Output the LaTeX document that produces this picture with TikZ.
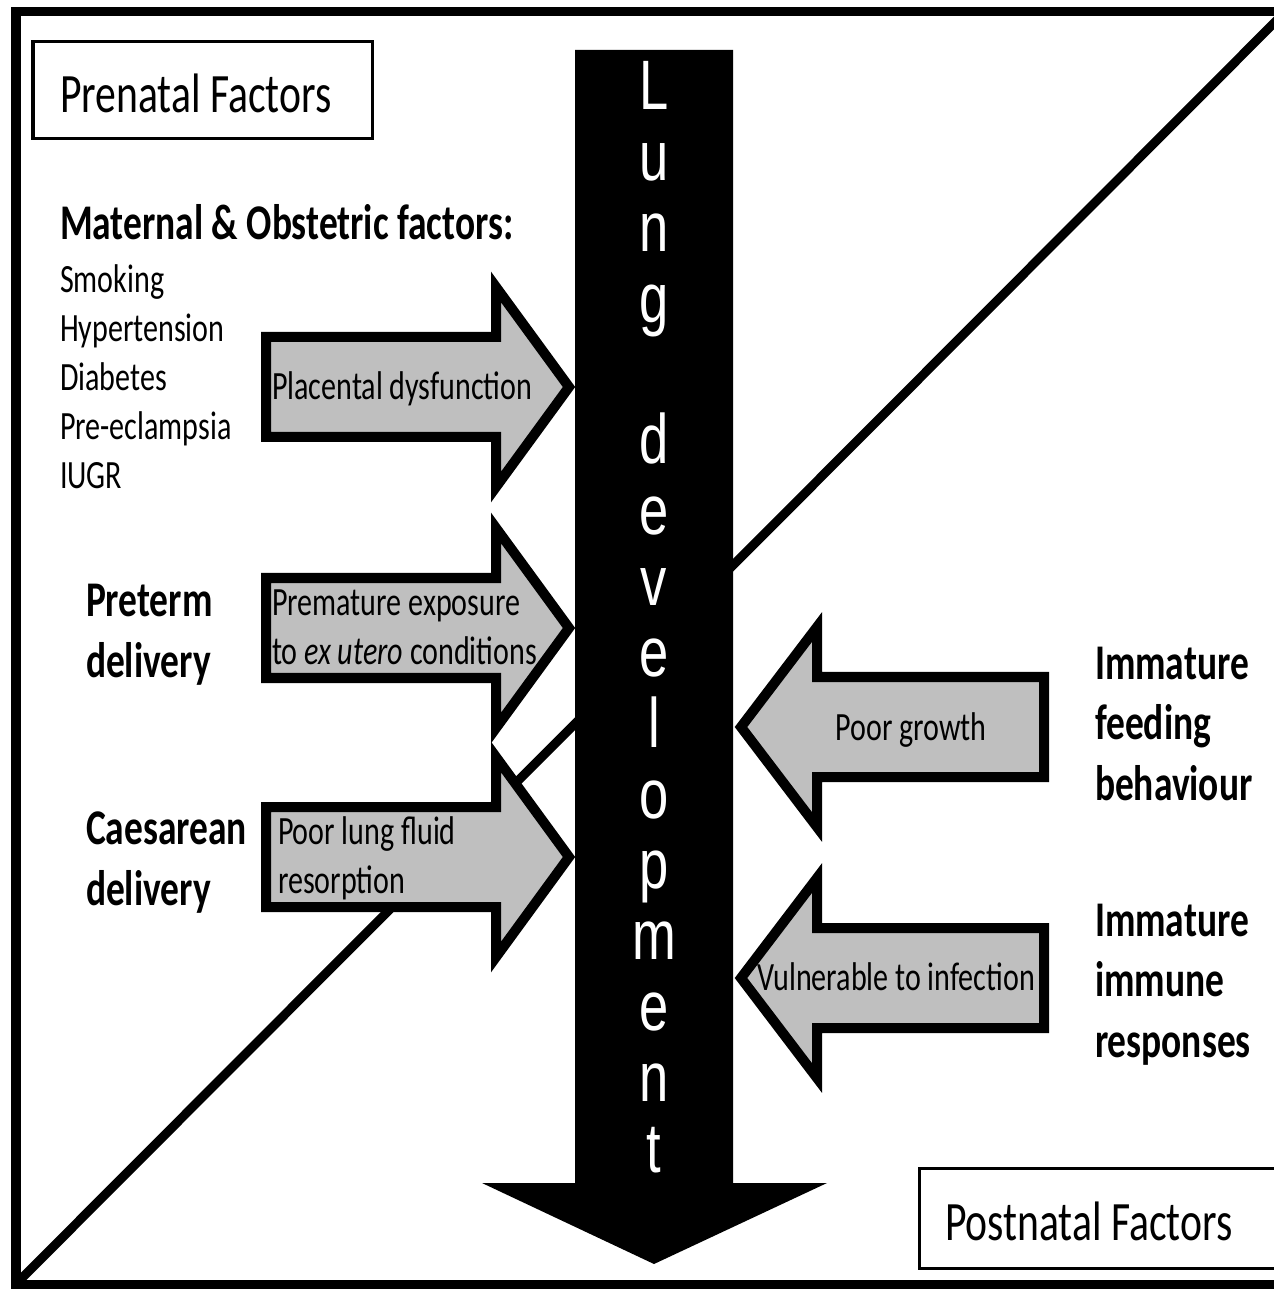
\documentclass[tikz,border=0pt]{standalone}
\usepackage{fontspec}
\setmainfont{Carlito}[FakeStretch=0.75]
\newfontfamily\stemfont{Liberation Sans}[FakeStretch=0.75]
\definecolor{factorgray}{RGB}{191,191,191}

\begin{document}
\begin{tikzpicture}[
      x=0.01cm, y=-0.01cm,
      every node/.style={inner sep=0pt, outer sep=0pt},
      titlebox/.style={draw, line width=0.03cm, anchor=north west},
      heading/.style={font=\fontsize{15.8}{19}\selectfont, anchor=base west},
      factor/.style={font=\bfseries\fontsize{14.2}{17.2}\selectfont, anchor=base west, align=left},
      bodytext/.style={font=\fontsize{11.4}{13.8}\selectfont, anchor=base west, align=left},
      letter/.style={font=\stemfont\fontsize{19.9}{24}\selectfont, text=white, anchor=base},
      grayarrow/.style={fill=factorgray, draw=black, line width=0.1cm}
    ]
  \useasboundingbox (0,0) rectangle (1274,1292);

  % frame and the prenatal/postnatal split
  \draw[line width=0.09cm] (16,12) rectangle (1290,1284);
  \draw[line width=0.09cm] (16,1284) -- (1285,12);

  % lung development stem
  \fill (575,50) -- (733,50) -- (733,1183) -- (827,1183) -- (654,1264)
    -- (482,1183) -- (575,1183) -- cycle;
  \foreach \ch [count=\i from 0] in {L,u,n,g,{},d,e,v,e,l,o,p,m,e,n,t}
    \node[letter] (ltr\i) at (654,110+70.8*\i) {\ch};

  % arrows into the stem
  \foreach \cy in {387,628,857}
    \draw[grayarrow] (266,\cy-50) -- (496,\cy-50) -- (496,\cy-100) -- (569,\cy)
      -- (496,\cy+100) -- (496,\cy+50) -- (266,\cy+50) -- cycle;
  \foreach \cy in {727,978}
    \draw[grayarrow] (1044,\cy-50) -- (817,\cy-50) -- (817,\cy-100) -- (741,\cy)
      -- (817,\cy+100) -- (817,\cy+50) -- (1044,\cy+50) -- cycle;

  % boxes
  \node[titlebox, minimum width=3.39cm, minimum height=0.96cm] (prenatalbox) at (33,42) {};
  \node[heading] (prenatal) at (60,113) {Prenatal Factors};
  \node[titlebox, minimum width=4cm, minimum height=1cm] (postnatalbox) at (919,1168) {};
  \node[heading] (postnatal) at (945,1240) {Postnatal Factors};

  % prenatal side
  \node[factor] (maternal) at (60,240) {Maternal \& Obstetric factors:};
  \foreach \txt [count=\i from 0] in {Smoking,Hypertension,Diabetes,Pre-eclampsia,IUGR}
    \node[bodytext] (risk\i) at (60,293+49*\i) {\txt};
  \node[factor] (preterm) at (86,677) {Preterm\\delivery};
  \node[factor] (caesar) at (86,905) {Caesarean\\delivery};
  \node[bodytext] (placental) at (272,400) {Placental dysfunction};
  \node[bodytext] (exposure) at (272,664) {Premature exposure\\to \textit{ex utero} conditions};
  \node[bodytext] (fluid) at (278,893) {Poor lung fluid\\resorption};

  % postnatal side
  \node[factor] (feeding) at (1095,800) {Immature\\feeding\\behaviour};
  \node[factor] (immune) at (1095,1057) {Immature\\immune\\responses};
  \node[bodytext, anchor=base] (growth) at (911,740) {Poor growth};
  \node[bodytext, anchor=base] (infection) at (896,990) {Vulnerable to infection};
\end{tikzpicture}
\end{document}
